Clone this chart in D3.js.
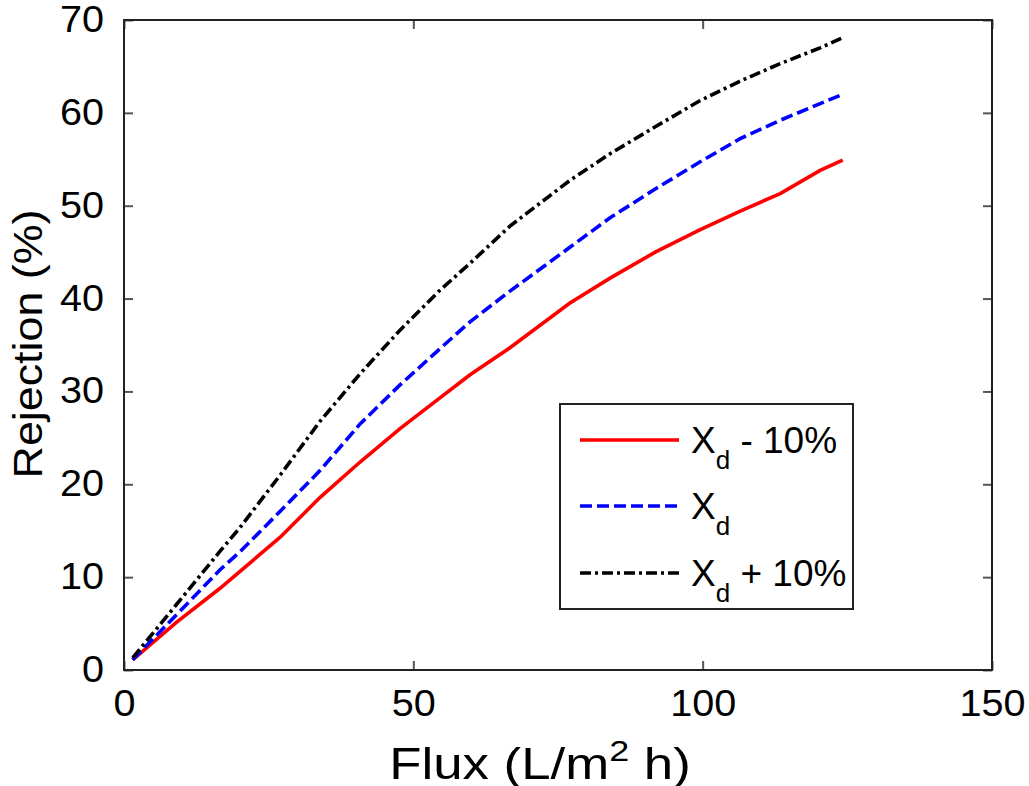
<!DOCTYPE html>
<html>
<head>
<meta charset="utf-8">
<script src="https://cdn.jsdelivr.net/npm/d3@7"></script>
<style>
  html, body { margin: 0; padding: 0; background: #fff; }
  svg { display: block; font-family: "Liberation Sans", Arial, sans-serif; }
</style>
</head>
<body>
<svg id="chart" width="1029" height="786"></svg>
<script>
// Flux values (L/m2 h) at which the rejection curves are sampled
const flux = [1.5, 9, 16.6, 20, 27, 33.9, 40.8, 47.7, 54.6, 59.8, 66.7, 77, 84, 91.8, 99.5, 106.4, 113.4, 120.3, 124.2];

// Rejection (%) for each case
const rejMinus10 = [1.1, 5.1, 8.8, 10.6, 14.3, 18.6, 22.4, 26.0, 29.3, 31.8, 34.7, 39.5, 42.2, 45.0, 47.4, 49.4, 51.3, 53.8, 54.9];
const rejBase    = [1.1, 5.9, 10.8, 12.7, 17.1, 21.5, 26.5, 30.7, 34.6, 37.5, 40.8, 45.5, 48.7, 51.8, 54.7, 57.2, 59.2, 61.0, 62.0];
const rejPlus10  = [1.3, 7.0, 12.8, 15.3, 21.0, 26.8, 31.9, 36.6, 40.9, 43.8, 47.8, 52.7, 55.6, 58.5, 61.3, 63.4, 65.3, 67.0, 68.1];

// Axis ticks
const xTicks = [0, 50, 100, 150];
const yTicks = [0, 10, 20, 30, 40, 50, 60, 70];

// Series metadata
const seriesNames = ["Xd - 10%", "Xd", "Xd + 10%"];
const seriesSuffix = [" - 10%", "", " + 10%"];
const seriesValues = [rejMinus10, rejBase, rejPlus10];
const seriesColors = ["#ff0000", "#0000ff", "#000000"];
const seriesDash = [null, "12,5", "11,4,3,4"];

const svg = d3.select("#chart");
const plotLeft = 124, plotRight = 992, plotTop = 20, plotBottom = 670;

const x = d3.scaleLinear().domain([0, 150]).range([plotLeft, plotRight]);
const y = d3.scaleLinear().domain([0, 70]).range([plotBottom, plotTop]);

// Widen a text element horizontally while keeping its anchor in place
function widen(sel, factor) {
  sel.each(function () {
    const len = this.getComputedTextLength();
    d3.select(this).attr("textLength", len * factor).attr("lengthAdjust", "spacingAndGlyphs");
  });
}

// Tick marks on all four sides, pointing inward
const tickLen = 9;
const axisStyle = g => {
  g.select(".domain").remove();
  g.selectAll(".tick line").attr("stroke", "#555").attr("stroke-width", 2);
};
const labelStyle = g => {
  g.selectAll(".tick text").attr("font-size", 36).attr("fill", "#000")
    .attr("font-family", "'Liberation Sans', Arial, sans-serif")
    .call(widen, 1.1);
};
svg.append("g").attr("transform", `translate(0,${plotBottom})`)
  .call(d3.axisBottom(x).tickValues(xTicks).tickSize(-tickLen).tickPadding(20).tickFormat(d3.format("d")))
  .call(axisStyle)
  .call(labelStyle);
svg.append("g").attr("transform", `translate(0,${plotTop})`)
  .call(d3.axisTop(x).tickValues(xTicks).tickSize(-tickLen).tickFormat(""))
  .call(axisStyle);
svg.append("g").attr("transform", `translate(${plotLeft},0)`)
  .call(d3.axisLeft(y).tickValues(yTicks).tickSize(-tickLen).tickPadding(20).tickFormat(d3.format("d")))
  .call(axisStyle)
  .call(labelStyle);
svg.append("g").attr("transform", `translate(${plotRight},0)`)
  .call(d3.axisRight(y).tickValues(yTicks).tickSize(-tickLen).tickFormat(""))
  .call(axisStyle);

// Plot frame
svg.append("rect")
  .attr("x", plotLeft).attr("y", plotTop)
  .attr("width", plotRight - plotLeft).attr("height", plotBottom - plotTop)
  .attr("fill", "none").attr("stroke", "#222").attr("stroke-width", 2);

// Curves
const line = d3.line().x((d, i) => x(flux[i])).y(d => y(d));
seriesValues.forEach((vals, k) => {
  svg.append("path")
    .datum(vals)
    .attr("d", line)
    .attr("fill", "none")
    .attr("stroke", seriesColors[k])
    .attr("stroke-width", 3.6)
    .attr("stroke-dasharray", seriesDash[k]);
});

// Legend
const legend = svg.append("g");
legend.append("rect")
  .attr("x", 560).attr("y", 404).attr("width", 293).attr("height", 205)
  .attr("fill", "#fff").attr("stroke", "#222").attr("stroke-width", 2);
const rowY = [440, 506, 573];
seriesNames.forEach((name, k) => {
  legend.append("line")
    .attr("x1", 580).attr("x2", 679)
    .attr("y1", rowY[k]).attr("y2", rowY[k])
    .attr("stroke", seriesColors[k]).attr("stroke-width", 3.6)
    .attr("stroke-dasharray", seriesDash[k]);
  const t = legend.append("text")
    .attr("x", 691).attr("y", rowY[k] + 13)
    .attr("font-size", 37).attr("fill", "#000");
  t.append("tspan").text("X");
  t.append("tspan").attr("font-size", 26).attr("dy", 16).text("d");
  if (seriesSuffix[k]) t.append("tspan").attr("dy", -16).text(seriesSuffix[k]);
});

// Axis titles
const xTitleG = svg.append("g").attr("transform", "translate(540,779) scale(1.2,1)");
const xTitle = xTitleG.append("text")
  .attr("x", 0).attr("y", 0)
  .attr("text-anchor", "middle")
  .attr("font-size", 44).attr("fill", "#000");
xTitle.append("tspan").text("Flux (L/m");
xTitle.append("tspan").attr("font-size", 30).attr("dy", -18).text("2");
xTitle.append("tspan").attr("dy", 18).text(" h)");

svg.append("g").attr("transform", "translate(42,344) rotate(-90) scale(1.12,1)")
  .append("text")
  .attr("text-anchor", "middle")
  .attr("font-size", 40).attr("fill", "#000")
  .text("Rejection (%)");
</script>
</body>
</html>
